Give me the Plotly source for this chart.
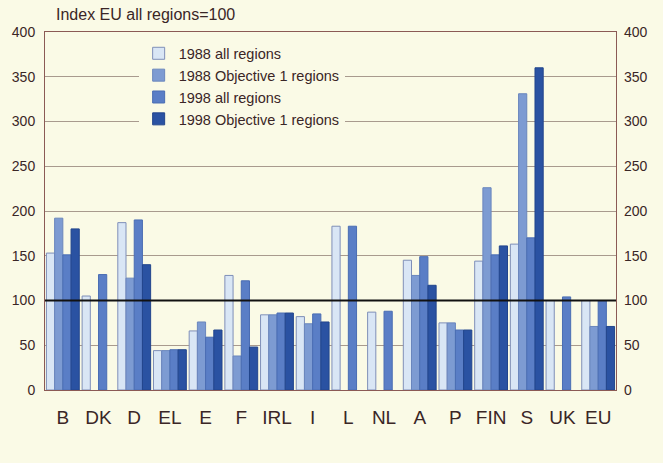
import plotly.graph_objects as go

categories = ["B", "DK", "D", "EL", "E", "F", "IRL", "I", "L", "NL", "A", "P", "FIN", "S", "UK", "EU"]
all_1988 = [153, 105, 187, 44, 66, 128, 84, 82, 183, 87, 145, 75, 144, 163, 100, 100]
obj1_1988 = [192, None, 125, 44, 76, 38, 84, 74, None, None, 128, 75, 226, 331, None, 71]
all_1998 = [151, 129, 190, 45, 59, 122, 86, 85, 183, 88, 149, 67, 151, 170, 104, 100]
obj1_1998 = [180, None, 140, 45, 67, 48, 86, 76, None, None, 117, 67, 161, 360, None, 71]
y_ticks = [0, 50, 100, 150, 200, 250, 300, 350, 400]

bg = "#fafae6"
frame = "#8b5a55"
grid = "#a89a8e"
txt = "#3a2626"

series = [
    ("1988 all regions", all_1988, "#d9e6f5", "#7f8fb8"),
    ("1988 Objective 1 regions", obj1_1988, "#7d9bd2", "#6a86bd"),
    ("1998 all regions", all_1998, "#5a7ec6", "#4a6db3"),
    ("1998 Objective 1 regions", obj1_1998, "#2a52a2", "#22458c"),
]

fig = go.Figure()
for name, vals, col, line in series:
    fig.add_trace(go.Bar(
        name=name, x=categories, y=vals,
        marker=dict(color=col, line=dict(color=line, width=1)),
    ))

# invisible trace so the right-hand axis gets drawn
fig.add_trace(go.Scatter(x=categories, y=[None] * len(categories), yaxis="y2",
                         showlegend=False, hoverinfo="skip"))

fig.add_shape(type="line", xref="paper", x0=0, x1=1, yref="y", y0=100, y1=100,
              line=dict(color="#111111", width=2))

fig.update_layout(
    width=663, height=463,
    paper_bgcolor=bg, plot_bgcolor=bg,
    margin=dict(l=45, r=47, t=32, b=73),
    barmode="group", bargap=0.08, bargroupgap=0,
    font=dict(family="Liberation Sans, Arial, sans-serif", size=14, color=txt),
    showlegend=True,
    legend=dict(x=0.164, y=0.985, xanchor="left", yanchor="top",
                bgcolor=bg, font=dict(size=14.5), tracegroupgap=0,
                itemwidth=30),
    xaxis=dict(range=[-0.5, 15.5], showline=True, linecolor=frame, mirror=True,
               ticks="", ticklabelstandoff=10, automargin=False,
               tickfont=dict(family="Liberation Sans Narrow, Liberation Sans, Arial", size=19),
               fixedrange=True),
    yaxis=dict(range=[0, 400], tickvals=y_ticks, showgrid=True, gridcolor=grid,
               gridwidth=1, showline=True, linecolor=frame, mirror=True,
               zeroline=False, ticks="", ticklabelstandoff=6, automargin=False),
    yaxis2=dict(range=[0, 400], tickvals=y_ticks, overlaying="y", side="right",
                showgrid=False, zeroline=False, showline=False, ticks="",
                ticklabelstandoff=7, automargin=False),
    annotations=[dict(text="Index EU all regions=100", xref="paper", yref="paper",
                      x=0.015, y=1.0, yshift=7, xanchor="left", yanchor="bottom",
                      showarrow=False, font=dict(size=16, color=txt))],
)

# drop the default page margin so the figure sits at the window's corner
fig.write_html("out.html", config={"displayModeBar": False},
               post_script="document.body.style.margin='0';"
                           "document.body.style.background='#fafae6';")
